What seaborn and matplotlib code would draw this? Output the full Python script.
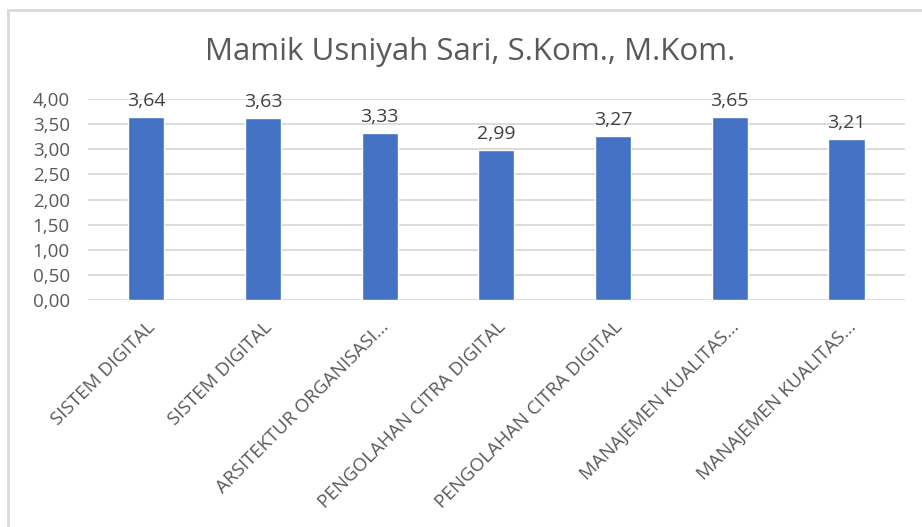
import pandas as pd
import matplotlib.pyplot as plt
import seaborn as sns
from matplotlib.patches import Rectangle
from matplotlib.ticker import FuncFormatter

# Data
courses = ['SISTEM DIGITAL', 'SISTEM DIGITAL', 'ARSITEKTUR ORGANISASI...',
           'PENGOLAHAN CITRA DIGITAL', 'PENGOLAHAN CITRA DIGITAL',
           'MANAJEMEN KUALITAS...', 'MANAJEMEN KUALITAS...']
scores = [3.64, 3.63, 3.33, 2.99, 3.27, 3.65, 3.21]
title = 'Mamik Usniyah Sari, S.Kom., M.Kom.'

# course names repeat, so use a position key for the x axis
df = pd.DataFrame({'pos': [str(i) for i in range(len(courses))], 'score': scores})

sns.set_style('white')
plt.rcParams['font.family'] = ['Open Sans', 'DejaVu Sans']

fig = plt.figure(figsize=(9.22, 5.27), dpi=100)
ax = fig.add_axes([0.0954, 0.4307, 0.886, 0.3814])

sns.barplot(data=df, x='pos', y='score', color='#4472C4', saturation=1,
            width=0.31, ax=ax)

ax.set_ylim(0, 4)
ax.set_yticks([i * 0.5 for i in range(9)])
ax.yaxis.set_major_formatter(FuncFormatter(lambda v, p: f'{v:.2f}'.replace('.', ',')))
ax.grid(axis='y', color='#d9d9d9', linewidth=1.3)
ax.set_axisbelow(True)
sns.despine(ax=ax, left=True, bottom=True, top=True, right=True)

ax.set_xlabel('')
ax.set_ylabel('')
ax.set_xticks(range(len(courses)))
ax.set_xticklabels(courses, rotation=45, ha='right', rotation_mode='anchor')
ax.tick_params(axis='x', length=0, pad=13, labelsize=13.5, labelcolor='#595959')
ax.tick_params(axis='y', length=0, pad=13, labelsize=13.5, labelcolor='#595959')

ax.bar_label(ax.containers[0], labels=[f'{v:.2f}'.replace('.', ',') for v in scores],
             padding=5, fontsize=14, color='#404040')

fig.text(0.51, 0.902, title, ha='center', va='center', fontsize=22.5, color='#595959')

# chart frame (partly outside the image)
fig.patches.append(Rectangle((0.009, -0.1), 1.2, 1.081, transform=fig.transFigure,
                             fill=False, edgecolor='#d9d9d9', linewidth=2))

fig.savefig('out.png', dpi=100)
